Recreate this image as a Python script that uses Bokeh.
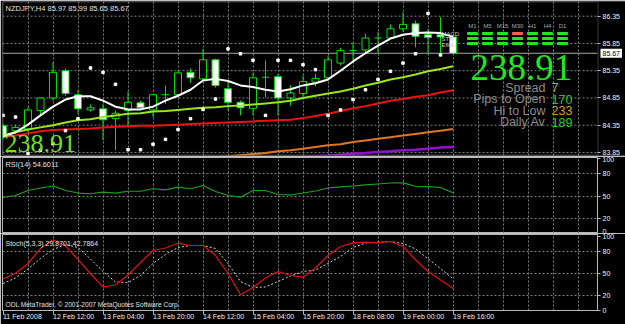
import numpy as np
from bokeh.plotting import figure
from bokeh.layouts import column
from bokeh.models import Range1d, FixedTicker, Label, BoxAnnotation
from bokeh.embed import file_html
from bokeh.resources import INLINE

# ---------------- data ----------------
symbol = "NZDJPY,H4"
opens  = [84.34, 84.25, 84.28, 84.62, 84.85, 85.35, 84.91, 84.63, 84.65, 84.47,
          84.62, 84.76, 84.63, 84.91, 84.91, 85.32, 85.20, 85.55, 85.02, 84.77,
          84.66, 85.23, 85.24, 84.85, 84.93, 85.14, 85.22, 85.49, 85.72, 85.73,
          85.95, 85.95, 86.12, 86.21, 86.01, 86.01, 85.97]
highs  = [84.38, 84.36, 84.68, 84.86, 85.51, 85.39, 84.99, 84.73, 84.74, 84.62,
          84.97, 84.80, 84.92, 85.08, 85.35, 85.39, 85.75, 85.57, 85.14, 84.80,
          85.32, 85.54, 85.29, 85.08, 85.26, 85.29, 85.63, 85.77, 85.87, 86.03,
          86.06, 86.20, 86.42, 86.27, 86.12, 86.33, 85.99]
lows   = [84.09, 84.20, 84.19, 84.53, 84.80, 84.89, 84.56, 84.60, 84.07, 83.89,
          84.33, 84.62, 84.50, 84.74, 84.86, 85.13, 85.17, 85.04, 84.62, 84.53,
          84.53, 84.86, 84.53, 84.71, 84.86, 85.06, 85.17, 85.45, 85.54, 85.66,
          85.66, 85.94, 86.06, 85.78, 85.65, 85.65, 85.65]
closes = [84.13, 84.31, 84.63, 84.85, 85.32, 84.93, 84.65, 84.67, 84.45, 84.57,
          84.77, 84.67, 84.91, 84.91, 85.31, 85.22, 85.55, 85.08, 84.77, 84.67,
          85.22, 85.23, 84.85, 84.94, 85.15, 85.21, 85.55, 85.72, 85.72, 85.95,
          85.95, 86.12, 86.20, 85.98, 85.96, 85.97, 85.67]

ma_white = [84.14, 84.22, 84.36, 84.53, 84.69, 84.82, 84.88, 84.88, 84.80, 84.69,
            84.64, 84.64, 84.69, 84.80, 84.89, 85.00, 85.17, 85.20, 85.16, 85.08,
            85.05, 85.00, 84.97, 85.01, 85.08, 85.12, 85.19, 85.35, 85.52, 85.67,
            85.81, 85.94, 86.01, 86.04, 86.05, 86.04, 85.97]
ma_lime = [84.16, 84.22, 84.27, 84.31, 84.35, 84.40, 84.44, 84.46, 84.50, 84.53,
           84.56, 84.57, 84.60, 84.61, 84.63, 84.65, 84.67, 84.68, 84.70, 84.71,
           84.73, 84.75, 84.77, 84.80, 84.85, 84.89, 84.93, 84.97, 85.02, 85.08,
           85.13, 85.19, 85.23, 85.28, 85.34, 85.38, 85.43]
ma_red = [84.13, 84.16, 84.20, 84.24, 84.26, 84.27, 84.28, 84.29, 84.31, 84.32,
          84.33, 84.34, 84.34, 84.35, 84.36, 84.37, 84.38, 84.39, 84.40, 84.41,
          84.42, 84.43, 84.44, 84.45, 84.48, 84.52, 84.56, 84.61, 84.66, 84.70,
          84.75, 84.80, 84.83, 84.87, 84.90, 84.95, 84.99]
ma_orange = [None] * 16 + [83.74, 83.76, 83.78, 83.80, 83.82, 83.84, 83.87, 83.89,
                           83.92, 83.95, 83.98, 84.00, 84.04, 84.07, 84.10, 84.13,
                           84.16, 84.19, 84.22, 84.25, 84.28]
ma_purple = [None] * 23 + [83.75, 83.76, 83.78, 83.79, 83.81, 83.83, 83.84, 83.86,
                           83.87, 83.89, 83.90, 83.92, 83.94, 83.95]
sar = [84.53, 84.50, 83.83, 83.89, 84.01, 84.25, 84.47, 85.40, 85.32, 85.10,
       83.90, 83.90, 84.00, 84.09, 84.27, 84.47, 84.64, 84.83, 85.75, 85.66,
       85.54, 84.53, 85.54, 85.54, 85.46, 85.37, 84.53, 84.63, 84.82, 85.00,
       85.19, 85.34, 85.49, 85.66, 86.40, 85.64, None]

rsi = [48.2, 50.9, 57.6, 60.9, 63.6, 57.6, 54.2, 53.2, 55.3, 54.0,
       56.6, 56.6, 59.9, 58.5, 62.0, 59.9, 64.3, 56.2, 50.9, 48.6,
       57.6, 57.6, 52.2, 51.6, 54.2, 56.9, 60.9, 62.5, 63.6, 65.0,
       66.3, 67.6, 67.9, 63.3, 62.9, 61.6, 54.6011]
stoch_k = [42.6, 50.5, 63.7, 84.2, 96.0, 87.6, 69.2, 49.7, 31.4, 34.4,
           48.0, 65.1, 81.4, 84.9, 91.4, 88.3, 88.3, 74.6, 50.1, 21.0,
           31.0, 43.9, 52.8, 47.3, 45.0, 57.6, 74.6, 86.9, 91.9, 92.8,
           91.9, 93.7, 86.9, 68.8, 52.8, 41.2, 29.8701]
stoch_d = [36.4, 43.9, 56.2, 70.5, 82.8, 89.6, 85.5, 69.8, 52.8, 38.5,
           37.8, 47.3, 63.7, 76.0, 85.5, 88.3, 88.3, 84.2, 63.7, 39.2,
           31.0, 31.7, 39.2, 46.7, 52.8, 54.8, 63.7, 73.3, 85.5, 91.7,
           92.8, 93.7, 91.0, 83.5, 70.1, 56.9, 42.7864]

tick_bars = [0, 4, 8, 12, 16, 20, 24, 28, 32, 36]
tick_labels = ["11 Feb 2008", "12 Feb 12:00", "13 Feb 04:00", "13 Feb 20:00",
               "14 Feb 12:00", "15 Feb 04:00", "15 Feb 20:00", "18 Feb 08:00",
               "19 Feb 00:00", "19 Feb 16:00"]
price_ticks = [83.85, 84.35, 84.85, 85.35, 85.85, 86.35]
osc_ticks = [0, 20, 50, 80, 100]
osc_levels = [20, 50, 80]

big_value = "238.91"
info_labels = ["Spread", "Pips to Open", "Hi to Low", "Daily Av"]
info_values = ["7", "170", "233", "189"]
info_colors = ["#d0a010", "#22cc22", "#d0a010", "#22cc22"]
tf_labels = ["M1", "M5", "M15", "M30", "H1", "H4", "D1"]
sig_rows = ["MACD", "STR", "EMA"]
signals = [[1, 1, 1, -1, 1, 1, 1],
           [1, 1, 1, 1, 1, 1, 1],
           [1, 1, 1, 1, 1, 1, 1]]

# ---------------- styles ----------------
CANDLE = "#00e000"
GRID = "#808080"
FRAME = "#b8b8b8"
FONT = "Liberation Sans"
NARROW = "Liberation Sans Narrow"

# pixel helpers for placing overlay texts / frame lines
def fx(px):
    return (px - 2.5) / 12.5

def fy(py):
    return 86.35 - (py - 15.7) / 54.5

def ry(py):
    return (233.0 - py) / 0.7467

def sy(py):
    return (309.7 - py) / 0.733

x_range = Range1d(fx(2), fx(597))
XGRID = FixedTicker(ticks=list(range(2, 48, 2)))


def style_yaxis(ya):
    ya.axis_line_color = None
    ya.major_tick_out = 3
    ya.major_tick_in = 0
    ya.major_tick_line_color = FRAME
    ya.minor_tick_line_color = None
    ya.major_label_text_color = "#f0f0f0"
    ya.major_label_text_font = FONT
    ya.major_label_text_font_size = "7px"
    ya.major_label_standoff = 2


def style_grid(g):
    g.grid_line_color = GRID
    g.grid_line_dash = "2 2"
    g.grid_line_width = 1


def make_fig(frame_h, y_range, top, bottom, xaxis):
    p = figure(width=625, height=top + frame_h + bottom, frame_width=595,
               frame_height=frame_h, x_range=x_range, y_range=y_range,
               output_backend="svg", toolbar_location=None, tools="",
               y_axis_location="right", x_axis_location=("below" if xaxis else None),
               min_border=0, min_border_left=2, min_border_right=28,
               min_border_top=top, min_border_bottom=bottom,
               background_fill_color="black", border_fill_color="black")
    p.outline_line_color = FRAME
    p.outline_line_width = 1
    style_yaxis(p.yaxis[0])
    p.xgrid.ticker = XGRID
    style_grid(p.xgrid[0])
    style_grid(p.ygrid[0])
    return p


def label(p, x, y, text, size, color, font=FONT, align="left",
          baseline="middle", **kw):
    lab = Label(x=x, y=y, text=text, text_font=font,
                text_font_size=size, text_color=color,
                text_align=align, text_baseline=baseline, **kw)
    p.add_layout(lab)
    return lab


# ---------------- main price panel (frame spans the price scale too) ----------------
p1 = figure(width=625, height=156, frame_width=623, frame_height=154,
            x_range=Range1d(fx(2), fx(625)), y_range=Range1d(fy(155), fy(1)),
            output_backend="svg", toolbar_location=None, tools="",
            y_axis_location="right", x_axis_location=None,
            min_border=0, min_border_left=2, min_border_right=0,
            min_border_top=1, min_border_bottom=1,
            background_fill_color="black", border_fill_color="black")
p1.outline_line_color = None
ya1 = p1.yaxis[0]
style_yaxis(ya1)
ya1.fixed_location = fx(597)
ya1.ticker = FixedTicker(ticks=price_ticks)
ya1.major_label_overrides = {t: f"{t:.2f}" for t in price_ticks}
p1.ygrid.visible = False
p1.xgrid.ticker = XGRID
style_grid(p1.xgrid[0])

# horizontal grid lines at the price ticks, limited to the chart area
n_pt = len(price_ticks)
p1.segment([fx(2)] * n_pt, price_ticks, [fx(597)] * n_pt, price_ticks,
           line_color=GRID, line_dash="2 2", line_width=1)
# bid line
p1.segment([fx(2)], [closes[-1]], [fx(597)], [closes[-1]],
           line_color="#a8a8a8", line_width=1)

idx = np.arange(len(opens), dtype=float)
o = np.array(opens); h = np.array(highs); l = np.array(lows); c = np.array(closes)
bull = c > o + 1e-9
bear = c < o - 1e-9
doji = ~(bull | bear)

p1.segment(idx, l, idx, h, line_color=CANDLE, line_width=1)
p1.vbar(x=idx[bull], bottom=o[bull], top=c[bull], width=0.56,
        fill_color="black", line_color=CANDLE, line_width=1)
p1.vbar(x=idx[bear], bottom=c[bear], top=o[bear], width=0.56,
        fill_color="white", line_color=CANDLE, line_width=1)
p1.segment(idx[doji] - 0.28, c[doji], idx[doji] + 0.28, c[doji],
           line_color=CANDLE, line_width=1)

p1.line(idx, np.array(ma_purple, dtype=float), line_color="#9010d0", line_width=2.5)
p1.line(idx, np.array(ma_orange, dtype=float), line_color="#e0781a", line_width=2)
p1.line(idx, np.array(ma_red, dtype=float), line_color="#ee1111", line_width=2)
p1.line(idx, np.array(ma_lime, dtype=float), line_color="#9ae61c", line_width=2)
p1.line(idx, np.array(ma_white, dtype=float), line_color="#ffffff", line_width=2)
p1.scatter(idx, np.array(sar, dtype=float), marker="square", size=2.5,
           fill_color="white", line_color="white")

# signal grid
cx, cy, cc = [], [], []
for r, row in enumerate(signals):
    for k, s in enumerate(row):
        cx.append(fx(472 + 15 * k))
        cy.append(fy(33 + 5 * r))
        cc.append("#22e622" if s > 0 else "#ff5a5a")
p1.rect(cx, cy, width=0.86, height=3, height_units="screen",
        fill_color=cc, line_color=None)
for k, t in enumerate(tf_labels):
    label(p1, fx(472 + 15 * k), fy(25), t, "6px", "#a8a8a8", align="center")
for r, t in enumerate(sig_rows):
    label(p1, fx(441), fy(33 + 5.5 * r), t, "6px", "#c8c8c8")

label(p1, fx(5), fy(8),
      f"{symbol} {opens[-1]:.2f} {highs[-1]:.2f} {lows[-1]:.2f} {closes[-1]:.2f}",
      "7.5px", "#e0e0e0")
label(p1, fx(470), fy(66.5), big_value, "37px", "#1ee81e", font=NARROW)
label(p1, fx(4), fy(142.5), big_value, "26px", "#72e01c", font=NARROW)
for n, (t, v, col) in enumerate(zip(info_labels, info_values, info_colors)):
    yc = fy(87.2 + 11.5 * n)
    label(p1, fx(545), yc, t, "12.5px", "#8c8c8c", align="right")
    label(p1, fx(551), yc, v, "12.5px", col)

# current price tag in the price scale
label(p1, fx(600), closes[-1], f"{closes[-1]:.2f}", "7px", "black",
      background_fill_color="white", padding=2)

# chart border
p1.add_layout(BoxAnnotation(left=fx(2.5), right=fx(597.5), top=fy(1.5), bottom=fy(154.5),
                            fill_color=None, fill_alpha=0, line_color=FRAME, line_width=1))

# ---------------- RSI panel ----------------
p2 = make_fig(76, Range1d(ry(233), ry(157)), 1, 0, False)
p2.yaxis.ticker = FixedTicker(ticks=osc_ticks)
p2.ygrid.ticker = FixedTicker(ticks=osc_levels)
p2.line(idx, rsi, line_color="#1ea01e", line_width=1.2)
label(p2, fx(5), ry(164.2), f"RSI(14) {rsi[-1]:.4f}", "7.3px", "#e0e0e0")

# ---------------- Stochastic panel ----------------
p3 = make_fig(76, Range1d(sy(310), sy(234)), 1, 14, True)
p3.yaxis.ticker = FixedTicker(ticks=osc_ticks)
p3.ygrid.ticker = FixedTicker(ticks=osc_levels)
p3.line(idx, stoch_d, line_color="#d0d0d0", line_width=1, line_dash="2 2")
p3.line(idx, stoch_k, line_color="#e01010", line_width=1.2)
label(p3, fx(5), sy(242.5),
      f"Stoch(5,3,3) {stoch_k[-1]:.4f} {stoch_d[-1]:.4f}", "7px", "#e0e0e0")
label(p3, fx(5), sy(304.3),
      "ODL MetaTrader, \u00a9 2001-2007 MetaQuotes Software Corp.", "6.6px", "#e0e0e0")

xa = p3.xaxis[0]
xa.ticker = FixedTicker(ticks=tick_bars)
xa.major_label_overrides = dict(zip(tick_bars, tick_labels))
xa.axis_line_color = None
xa.major_tick_out = 4
xa.major_tick_in = 0
xa.major_tick_line_color = FRAME
xa.minor_tick_line_color = None
xa.major_label_orientation = -1e-4
xa.major_label_text_color = "#f0f0f0"
xa.major_label_text_font = FONT
xa.major_label_text_font_size = "7px"
xa.major_label_standoff = 2

layout = column(p1, p2, p3, spacing=0)
open("out.html", "w").write(file_html(layout, INLINE))
